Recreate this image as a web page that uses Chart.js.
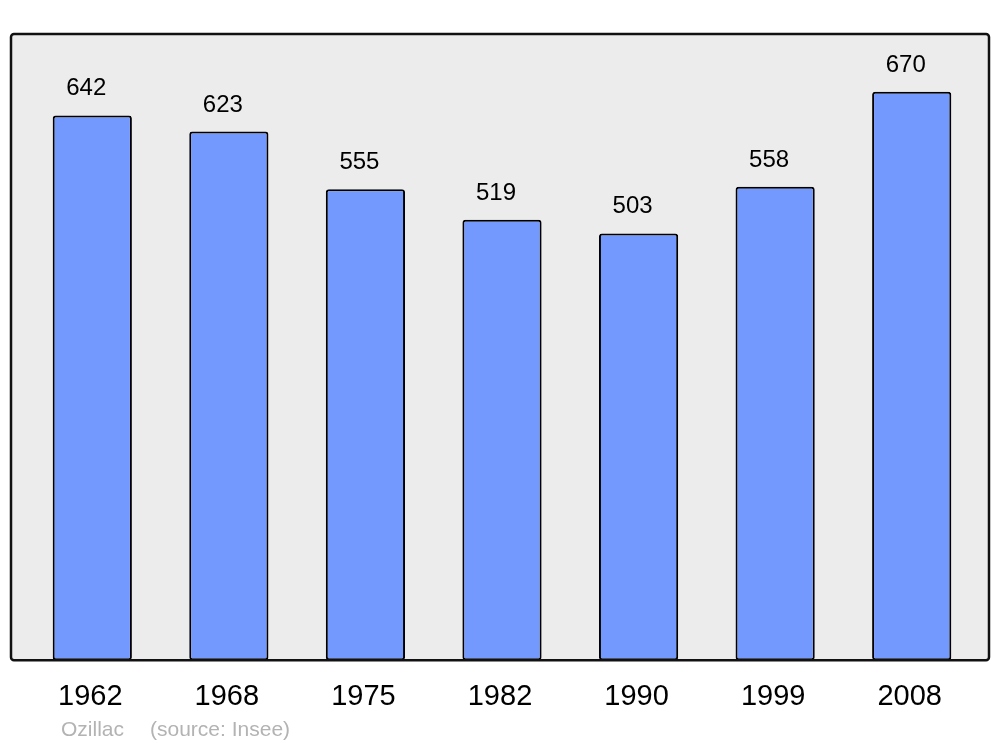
<!DOCTYPE html>
<html>
<head>
<meta charset="utf-8">
<script src="https://cdn.jsdelivr.net/npm/chart.js@4/dist/chart.umd.min.js"></script>
<style>
  html, body { margin: 0; padding: 0; background: #ffffff; }
  #wrap { width: 1000px; height: 747px; }
</style>
</head>
<body>
<div id="wrap"><canvas id="pop-chart" width="1000" height="747"></canvas></div>
<script>
const years = ['1962', '1968', '1975', '1982', '1990', '1999', '2008'];
const population = [642, 623, 555, 519, 503, 558, 670];
const townName = 'Ozillac';
const sourceText = '(source: Insee)';

// grey frame behind the bars, a bit wider than the chart area
const framePlugin = {
    id: 'frame',
    beforeDraw(chart) {
        const { ctx, chartArea } = chart;
        const x0 = chartArea.left - 13, x1 = chartArea.right + 9;
        const y0 = chartArea.top, y1 = chartArea.bottom;
        ctx.save();
        ctx.beginPath();
        ctx.roundRect(x0, y0, x1 - x0, y1 - y0, 3);
        ctx.fillStyle = '#ececec';
        ctx.fill();
        ctx.restore();
    },
    afterDatasetsDraw(chart) {
        const { ctx, chartArea } = chart;
        const x0 = chartArea.left - 13, x1 = chartArea.right + 9;
        const y0 = chartArea.top, y1 = chartArea.bottom;
        ctx.save();
        ctx.beginPath();
        ctx.roundRect(x0, y0, x1 - x0, y1 - y0, 3);
        ctx.lineWidth = 2.5;
        ctx.strokeStyle = '#111111';
        ctx.stroke();

        // footer
        ctx.font = '21px "Liberation Sans", Arial, sans-serif';
        ctx.fillStyle = '#b3b3b3';
        ctx.textBaseline = 'middle';
        ctx.textAlign = 'left';
        ctx.fillText(townName, x0 + 50, 730);
        ctx.fillText(sourceText, x0 + 139, 730);
        ctx.restore();
    }
};

// numbers above each bar
const valueLabels = {
    id: 'valueLabels',
    afterDatasetsDraw(chart) {
        const { ctx } = chart;
        const meta = chart.getDatasetMeta(0);
        ctx.save();
        ctx.font = '24px "Liberation Sans", Arial, sans-serif';
        ctx.fillStyle = '#000000';
        ctx.textAlign = 'center';
        ctx.textBaseline = 'alphabetic';
        meta.data.forEach((bar, i) => {
            ctx.fillText(String(population[i]), bar.x - 6, bar.y - 20);
        });
        ctx.restore();
    }
};

const ctx = document.getElementById('pop-chart').getContext('2d');
const popChart = new Chart(ctx, {
    type: 'bar',
    data: {
        labels: years,
        datasets: [{
            data: population,
            backgroundColor: '#7399ff',
            borderColor: '#000000',
            borderWidth: 2,
            borderRadius: 3,
            borderSkipped: false,
            barPercentage: 0.58,
            categoryPercentage: 1.0
        }]
    },
    options: {
        responsive: false,
        animation: false,
        layout: {
            padding: { left: 24, right: 20, top: 34, bottom: 14 }
        },
        plugins: {
            legend: { display: false },
            tooltip: { enabled: false }
        },
        scales: {
            x: {
                grid: { display: false, drawTicks: false },
                border: { display: false },
                ticks: {
                    color: '#000000',
                    padding: 19,
                    labelOffset: -2,
                    font: { family: '"Liberation Sans", Arial, sans-serif', size: 29 },
                    maxRotation: 0
                }
            },
            y: {
                display: false,
                min: 0,
                max: 738
            }
        }
    },
    plugins: [framePlugin, valueLabels]
});
</script>
</body>
</html>
